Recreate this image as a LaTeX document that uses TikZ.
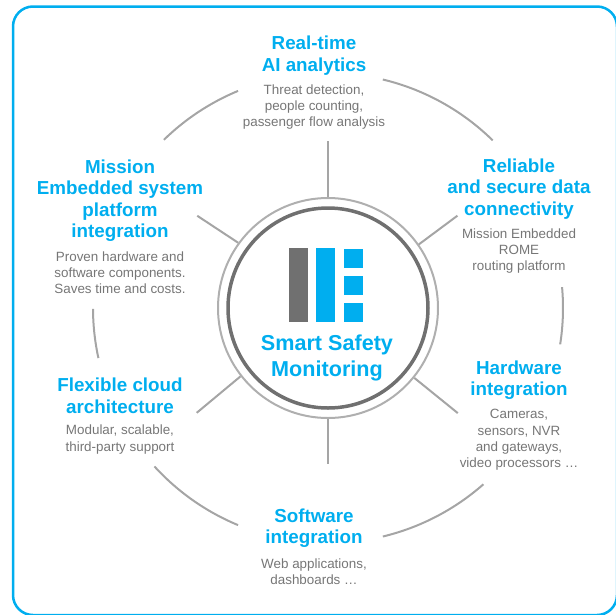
\documentclass[tikz,border=0pt]{standalone}
\usepackage{fontspec}
\setmainfont{Liberation Sans}
\usetikzlibrary{calc}
\definecolor{mblue}{RGB}{0,174,239}
\definecolor{dgray}{RGB}{112,112,112}
\definecolor{lgray}{RGB}{165,165,165}
\definecolor{rgray}{RGB}{175,175,175}
\definecolor{tgray}{RGB}{118,118,118}
\begin{document}
\begin{tikzpicture}[x=1pt,y=-1pt,
  title/.style={text=mblue,font=\fontsize{18.8}{21.5}\selectfont\bfseries,align=center,inner sep=0pt},
  desc/.style={text=tgray,font=\fontsize{13.4}{16.2}\selectfont,align=center,inner sep=0pt},
  spoke/.style={draw=lgray,line width=2pt},
  bigarc/.style={draw=lgray,line width=2pt}]
\clip (0,0) rectangle (616,614);
\draw[mblue,line width=2.5pt,rounded corners=20pt] (13,6.5) rectangle (617,615);
\coordinate (c) at (328,308);
% hub rings
\node[circle,draw=rgray,line width=2pt,minimum size=220pt,inner sep=0pt] (hub) at (c) {};
\node[circle,draw=dgray,line width=3.5pt,minimum size=200pt,inner sep=0pt] (core) at (c) {};
% logo
\fill[dgray] (289,248) rectangle (307.7,322);
\fill[mblue] (316,248) rectangle (334.7,322);
\fill[mblue] (344,248.5) rectangle (362.7,267.7);
\fill[mblue] (344,276) rectangle (362.7,295);
\fill[mblue] (344,303) rectangle (362.7,322);
\node[text=mblue,font=\fontsize{21.6}{26}\selectfont\bfseries,align=center,inner sep=0pt] (name) at (327,358) {Smart Safety\\Monitoring};
% outer arcs
\draw[bigarc] ($(c)+(112.5:235pt)$) arc[start angle=112.5,end angle=134.3,radius=235pt];
\draw[bigarc] ($(c)+(45.5:235pt)$) arc[start angle=45.5,end angle=76.5,radius=235pt];
\draw[bigarc] ($(c)+(-8.9:235pt)$) arc[start angle=-8.9,end angle=5.1,radius=235pt];
\draw[bigarc] ($(c)+(-76.5:235pt)$) arc[start angle=-76.5,end angle=-48.6,radius=235pt];
\draw[bigarc] ($(c)+(222.4:235pt)$) arc[start angle=222.4,end angle=247.5,radius=235pt];
\draw[bigarc] ($(c)+(180.2:235pt)$) arc[start angle=180.2,end angle=192.3,radius=235pt];
% spoke ends
\coordinate (e1) at ($(c)+(90:167pt)$);
\coordinate (e2) at ($(c)+(35.5:159pt)$);
\coordinate (e3) at ($(c)+(-39:167pt)$);
\coordinate (e4) at ($(c)+(-90:156pt)$);
\coordinate (e5) at ($(c)+(218.6:168pt)$);
\coordinate (e6) at ($(c)+(144.8:160pt)$);
\draw[spoke] (hub.90) -- (e1);
\draw[spoke] (hub.35.5) -- (e2);
\draw[spoke] (hub.-39) -- (e3);
\draw[spoke] (hub.-90) -- (e4);
\draw[spoke] (hub.218.6) -- (e5);
\draw[spoke] (hub.144.8) -- (e6);
% texts
\node[title] (t1) at (314,55.5) {Real-time\\AI analytics};
\node[desc] (d1) at (314,107) {Threat detection,\\people counting,\\passenger flow analysis};
\node[title] (t2) at (519,189) {Reliable\\and secure data\\connectivity};
\node[desc] (d2) at (519,251) {Mission Embedded\\ROME\\routing platform};
\node[title] (t3) at (519,380) {Hardware\\integration};
\node[desc] (d3) at (519,440) {Cameras,\\sensors, NVR\\and gateways,\\video processors …};
\node[title] (t4) at (314,528) {Software\\integration};
\node[desc] (d4) at (314,571.5) {Web applications,\\dashboards …};
\node[title] (t5) at (120,396) {Flexible cloud\\architecture};
\node[desc] (d5) at (120,439.5) {Modular, scalable,\\third-party support};
\node[title] (t6) at (120,200.5) {Mission\\Embedded system\\platform\\integration};
\node[desc] (d6) at (120,272.7) {Proven hardware and\\software components.\\Saves time and costs.};
\end{tikzpicture}
\end{document}
